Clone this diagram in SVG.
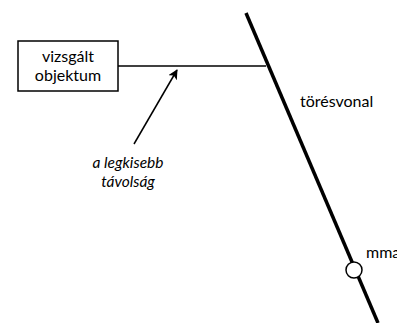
<svg xmlns="http://www.w3.org/2000/svg" width="397" height="323" viewBox="0 0 397 323">
<style>
text{font-family:Lato,"Open Sans","Liberation Sans",sans-serif;font-size:16px;fill:#000}
.it{font-style:italic;font-size:15.5px}
.thin{stroke:#000;stroke-width:1.5;fill:none}
</style>
<defs>
<marker id="ah" markerWidth="10" markerHeight="10" refX="9" refY="5" orient="auto" markerUnits="userSpaceOnUse">
<path d="M0,0 L10,5 L0,10 L2.5,5 Z" fill="#000"/>
</marker>
</defs>
<rect width="397" height="323" fill="#fff"/>
<g id="connectors">
<line x1="118" y1="66" x2="266" y2="66" class="thin"/>
<line x1="134" y1="144" x2="177" y2="70" class="thin" marker-end="url(#ah)"/>
</g>
<g id="toresvonal">
<line x1="246" y1="13" x2="378" y2="323" stroke="#000" stroke-width="3.5"/>
<text x="300" y="107">törésvonal</text>
</g>
<g id="objektum">
<rect x="18" y="41" width="100" height="50" fill="#fff" stroke="#000" stroke-width="1.5"/>
<text x="68" y="62" text-anchor="middle">vizsgált</text>
<text x="68" y="81" text-anchor="middle">objektum</text>
</g>
<g id="tavolsag">
<text class="it" x="128" y="168" text-anchor="middle">a legkisebb</text>
<text class="it" x="128" y="187" text-anchor="middle">távolság</text>
</g>
<g id="mma">
<circle cx="354" cy="270" r="8" fill="#fff" stroke="#000" stroke-width="1.5"/>
<text x="366" y="258">mma</text>
</g>
</svg>
